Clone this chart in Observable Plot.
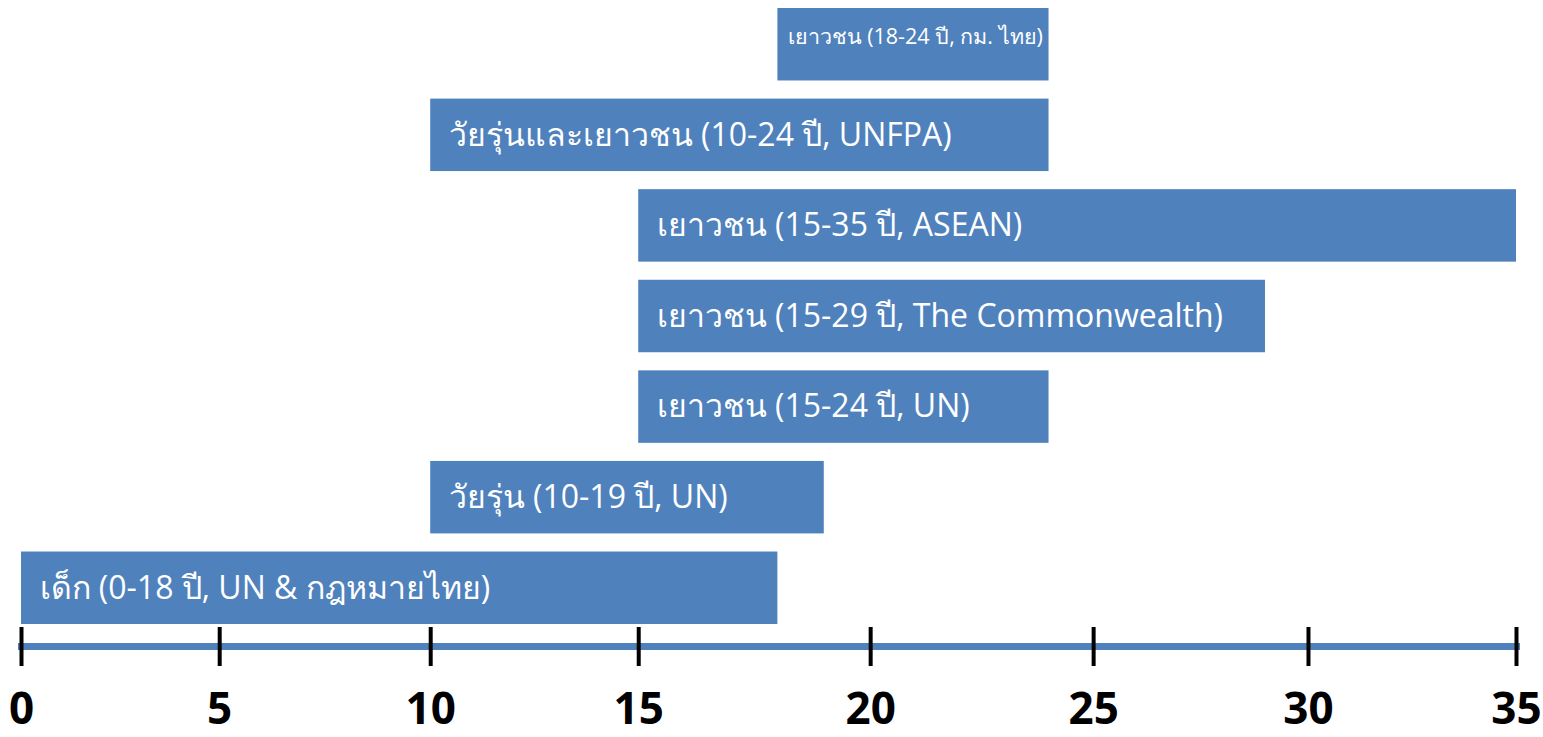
<!DOCTYPE html>
<html>
<head>
<meta charset="utf-8">
<script src="https://cdn.jsdelivr.net/npm/d3@7"></script>
<script src="https://cdn.jsdelivr.net/npm/@observablehq/plot@0.6"></script>
<style>
  html, body { margin: 0; padding: 0; background: #ffffff; }
  #chart svg { display: block; }
</style>
</head>
<body>
<div id="chart"></div>
<script>
// Age-group definitions (top to bottom)
const groupLabels = [
  "เยาวชน (18-24 ปี, กม. ไทย)",
  "วัยรุ่นและเยาวชน (10-24 ปี, UNFPA)",
  "เยาวชน (15-35 ปี, ASEAN)",
  "เยาวชน (15-29 ปี, The Commonwealth)",
  "เยาวชน (15-24 ปี, UN)",
  "วัยรุ่น (10-19 ปี, UN)",
  "เด็ก (0-18 ปี, UN & กฎหมายไทย)"
];
const startAges = [18, 10, 15, 15, 15, 10, 0];
const endAges   = [24, 24, 35, 29, 24, 19, 18];
const tickValues = [0, 5, 10, 15, 20, 25, 30, 35];
const tickLabels = ["0", "5", "10", "15", "20", "25", "30", "35"];
// The hand-drawn axis is slightly uneven: where each tick sits along the 0-35 line
const tickPlaces = [0, 4.64, 9.58, 14.45, 19.88, 25.10, 30.13, 35];

const warp = d3.scaleLinear(tickValues, tickPlaces);

const rows = groupLabels.map((label, i) => ({label, start: startAges[i], end: endAges[i], idx: i}));
const smallRows = rows.filter(d => d.idx === 0);
const mainRows = rows.filter(d => d.idx !== 0);
const ticks = tickValues.map((v, i) => ({v, label: tickLabels[i]}));

const blue = "#4F81BD";
const font = "'Open Sans', 'Noto Sans', sans-serif";

const chart = Plot.plot({
  width: 1543,
  height: 737,
  marginLeft: 21,
  marginRight: 27,
  marginTop: 8,
  marginBottom: 113,
  style: {fontFamily: font, background: "#ffffff"},
  x: {domain: [0, 35], transform: warp, axis: null},
  y: {domain: groupLabels, paddingInner: 0.2, paddingOuter: 0, align: 0, round: false, axis: null},
  marks: [
    Plot.barX(rows, {x1: "start", x2: "end", y: "label", fill: blue}),
    Plot.text(mainRows, {
      x: "start", y: "label", text: "label", dx: 18, textAnchor: "start",
      fill: "white", fontSize: 32
    }),
    Plot.text(smallRows, {
      x: d => (d.start + d.end) / 2, y: "label", text: "label", dy: -8,
      textAnchor: "middle", fill: "white", fontSize: 21.5
    }),
    Plot.frame({anchor: "bottom", stroke: blue, strokeWidth: 7, dy: 22}),
    Plot.ruleX(ticks, {x: "v", insetTop: 619, insetBottom: -42, stroke: "black", strokeWidth: 4}),
    Plot.text(ticks, {
      x: "v", text: "label", frameAnchor: "bottom", lineAnchor: "middle", dy: 85,
      fontSize: 44, fontWeight: "bold", fill: "black"
    })
  ]
});
document.getElementById("chart").appendChild(chart);
</script>
</body>
</html>
